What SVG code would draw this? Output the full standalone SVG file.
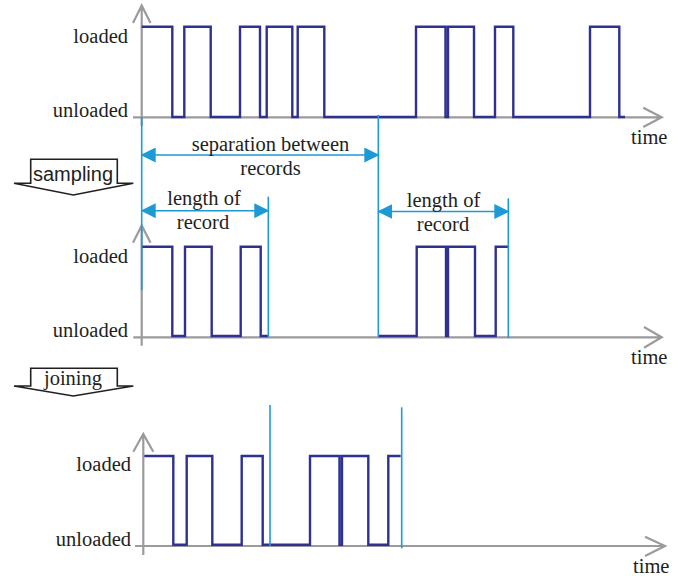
<svg xmlns="http://www.w3.org/2000/svg" width="683" height="579" viewBox="0 0 683 579">
<style>
.ax{fill:none;stroke:#9b9b9d;stroke-width:2.2;stroke-linejoin:miter}
.sig{fill:none;stroke:#2e3192;stroke-width:2.4;stroke-linejoin:miter}
.bl{fill:none;stroke:#1d9ad6;stroke-width:1.6}
.r{text-anchor:end}
.m{text-anchor:middle}
.box{fill:#fff;stroke:#231f20;stroke-width:1.6;stroke-linejoin:miter}
</style>
<defs>
<marker id="ah" viewBox="0 0 15 15" refX="14" refY="7.5" markerWidth="15" markerHeight="15" markerUnits="userSpaceOnUse" orient="auto-start-reverse">
<path d="M0,0 L15,7.5 L0,15 Z" fill="#1d9ad6"/>
</marker>
</defs>
<rect width="683" height="579" fill="#fff"/>

<g font-family="Liberation Serif, Times New Roman, serif" font-size="20.5" fill="#231f20">
<g id="panel-top">
<path class="ax" d="M141.7,5.5 V126 M133,23 L141.7,5.5 L150.5,23 M133,117.3 H661 M643.3,107.7 L661.7,117.3 L643.3,127"/>
<path class="sig" d="M141.7,26.7 H172.3 V117 H184.3 V26.7 H210.7 V117 H240 V26.7 H260 V117 H266.7 V26.7 H292.3 V117 H297.7 V26.7 H324.3 V117 H416 V26.7 H445.5 V117 H448 V26.7 H474 V117 H495 V26.7 H513.3 V117 H590 V26.7 H619.3 V117 H625"/>
<text class="r" x="128" y="43">loaded</text>
<text class="r" x="128" y="117">unloaded</text>
<text x="631" y="144">time</text>
</g>

<g id="panel-middle">
<path class="ax" d="M141.7,225.5 V345.7 M133,242.7 L141.7,225.5 L150.5,242.7 M133.3,337.3 H661 M644,327 L661.7,337.3 L644,347.7"/>
<path class="sig" d="M141.7,246.7 H172.3 V336 H185 V246.7 H211.7 V336 H240.7 V246.7 H260.7 V336 H268.3"/>
<path class="sig" d="M378.3,336 H416.7 V246.7 H446 V336 H448 V246.7 H475 V336 H495.7 V246.7 H508.3"/>
<text class="r" x="128" y="263">loaded</text>
<text class="r" x="128" y="337">unloaded</text>
<text x="631" y="364">time</text>
</g>

<g id="panel-bottom">
<path class="ax" d="M143.3,434 V555 M133.3,451.7 L143.3,434 L153.3,451.7 M135,546 H664 M645,536.7 L665,546 L645,556"/>
<path class="sig" d="M144.3,456 H173.3 V544.7 H186.7 V456 H212.3 V544.7 H241.7 V456 H262.7 V544.7 H310 V456 H339.5 V544.7 H342 V456 H368.3 V544.7 H388.3 V456 H400.7"/>
<text class="r" x="131" y="471">loaded</text>
<text class="r" x="131" y="546">unloaded</text>
<text x="633" y="573">time</text>
</g>

<g id="connectors">
<path class="bl" d="M141.7,117 V290"/>
<path class="bl" d="M378.3,115 V336.7"/>
<path class="bl" d="M268.3,196.7 V336.7"/>
<path class="bl" d="M508.3,198.3 V338"/>
<path class="bl" d="M270,405 V546"/>
<path class="bl" d="M401.7,407.3 V548.3"/>
<line class="bl" x1="141.7" y1="155" x2="378.3" y2="155" stroke-width="2" marker-start="url(#ah)" marker-end="url(#ah)"/>
<line class="bl" x1="141.7" y1="210.7" x2="268.3" y2="210.7" stroke-width="2" marker-start="url(#ah)" marker-end="url(#ah)"/>
<line class="bl" x1="378.3" y1="211.5" x2="508.3" y2="211.5" stroke-width="2" marker-start="url(#ah)" marker-end="url(#ah)"/>
</g>

<g id="label-separation">
<text class="m" x="270.5" y="151">separation between</text>
<text class="m" x="270.5" y="175">records</text>
</g>
<g id="label-length-1">
<text class="m" x="204" y="205">length of</text>
<text class="m" x="203" y="229">record</text>
</g>
<g id="label-length-2">
<text class="m" x="443.5" y="207">length of</text>
<text class="m" x="443" y="231">record</text>
</g>

<g id="sampling">
<path class="box" d="M30.7,159.3 H117.3 V183.3 H133.3 L73.3,195 L14,183.3 H30.7 Z"/>
<text x="73" y="181" text-anchor="middle" font-family="Liberation Sans, Arial, sans-serif" font-size="20">sampling</text>
</g>
<g id="joining">
<path class="box" d="M30.7,368.3 H117.3 V386 H133.3 L73.3,396 L14,386 H30.7 Z"/>
<text class="m" x="73" y="385">joining</text>
</g>
</g>
</svg>
